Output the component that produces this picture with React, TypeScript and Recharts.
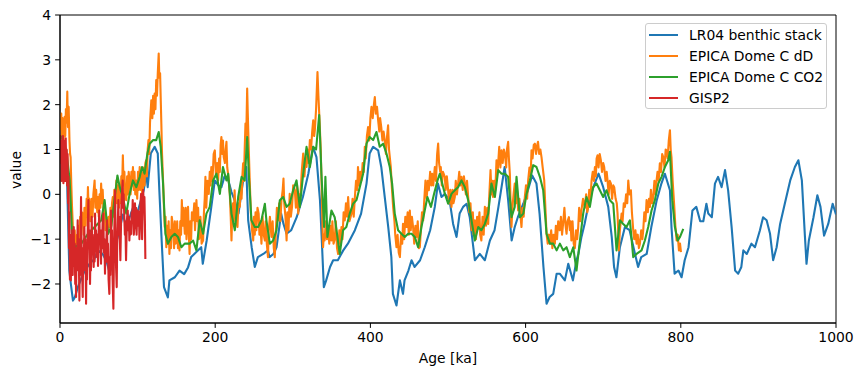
import React from "react";
import { LineChart, Line, XAxis, YAxis, Legend, ReferenceArea } from "recharts";

// [age ka, value] pairs
const LR04: [number, number][] = [
  [0, 0.95], [3, 1.05], [6, 0.8], [9, 0.4], [12, -1.7], [14, -2.0], [16.7, -2.37], [19, -2.3], [23, -2.07],
  [27, -1.9], [32, -1.7], [38, -1.55], [44, -1.45], [49, -1.25], [55, -1.33], [60, -1.5], [64, -1.75],
  [68, -1.55], [72, -1.1], [76, -0.85], [81, -0.45], [85, -0.7], [89, -0.55], [94, -0.3], [99, -0.45],
  [104, -0.15], [108, 0.1], [111, 0.46], [113, 0.16], [117, 0.91], [122, 1.06], [126, 0.91], [128, 0.09],
  [131, -1.03], [134, -2.07], [139, -2.3], [141, -1.92], [148, -1.85], [154, -1.7], [160, -1.78],
  [165, -1.63], [169, -1.4], [175, -1.3], [182, -1.18], [184, -1.55], [189, -1.03], [195, -0.28],
  [199.5, 0.31], [204, 0.2], [208, 0.16], [212, 0.4], [217, 0.31], [221, 0.05], [225, -0.13], [230, -0.43],
  [236, 0.31], [240, 0.61], [242.5, -0.58], [247, -1.18], [251, -1.62], [255, -1.4], [262, -1.33],
  [268, -1.25], [270, -1.4], [275, -1.33], [279, -1.18], [285, -0.43], [288, -0.66], [292, -0.88],
  [298, -0.8], [305, -0.51], [313, -0.06], [320, 0.46], [326, 1.06], [330.5, 0.83], [335, -0.13],
  [337, -0.88], [340, -2.07], [343, -1.92], [348, -1.62], [352, -1.47], [358, -1.47], [365, -1.25],
  [371, -1.1], [380, -0.8], [388, -0.43], [395, 0.24], [399, 0.91], [403.5, 1.06], [410, 0.98],
  [414, 0.61], [418.5, -0.06], [423, -0.73], [427, -1.4], [429, -2.22], [433.6, -2.48], [438, -1.92],
  [442, -2.22], [444, -1.92], [449, -1.7], [453, -1.47], [457, -1.62], [464, -1.47], [470, -1.18],
  [477, -0.8], [483, -0.28], [487, 0.24], [491.6, -0.06], [496, 0.01], [502, -0.13], [506.6, -0.66],
  [511, -0.95], [515, -0.43], [519.5, -0.28], [524, -0.21], [528, -0.51], [534.6, -1.47], [541, -1.33],
  [547.5, -1.47], [554, -1.03], [560, -0.8], [565, -0.28], [569, 0.16], [573, 0.61], [577.5, -0.13],
  [582, -1.03], [586, -0.73], [590, -0.51], [597, -0.21], [603, 0.09], [608.5, 0.42], [614, 0.24],
  [618, -0.43], [623, -1.62], [627, -2.44], [631, -2.29], [635.6, -2.22], [640, -1.77], [644, -1.77],
  [650.6, -1.92], [655, -1.55], [661, -1.92], [665.6, -1.47], [668, -1.33], [672, -0.95], [676, -0.66],
  [683, -0.06], [689, 0.24], [694, 0.46], [700, 0.16], [706.5, -0.28], [711, -0.95], [714, -1.62],
  [717, -1.85], [721.5, -1.18], [728, -0.73], [734, -0.8], [741, -1.33], [745, -1.62], [749, -1.4],
  [756, -1.33], [762, -0.73], [769, -0.13], [775, 0.24], [779.5, 0.46], [786, 0.09], [788, -0.73],
  [792, -1.77], [797, -1.7], [801, -1.85], [805, -1.47], [810, -1.18], [815, -0.36], [820, -0.28],
  [825, -0.6], [829, -0.6], [833, -0.21], [835.4, -0.43], [840, -0.51], [844, 0.24], [848, 0.39],
  [852.6, 0.16], [857, 0.54], [861, 0.09], [865.5, -0.73], [870, -1.7], [874, -1.77], [878, -1.62],
  [880.6, -1.25], [885, -1.33], [891, -1.1], [895.6, -1.18], [902, -0.8], [906, -0.51], [910.6, -0.58],
  [915, -0.88], [919, -1.47], [923.5, -1.18], [928, -0.66], [934, -0.21], [941, 0.31], [947, 0.61],
  [951.5, 0.76], [956, 0.31], [960, -0.95], [962, -1.55], [965, -1.03], [971, -0.51], [976, -0.02],
  [980, -0.28], [984.6, -0.92], [990, -0.66], [995.7, -0.21], [1000, -0.45],
];

const EPICA_DD: [number, number][] = [
  [0, 1.75], [0.8, 1.45], [1.6, 1.8], [2.4, 1.3], [3.2, 1.7], [3.9, 1.5], [4.7, 1.2], [5.4, 1.6], [6, 1.73],
  [6.8, 1.3], [7.6, 1.9], [8.5, 1.6], [9.4, 2.29], [10.2, 1.5], [11.2, 1.95], [12.2, 1.2], [13, 0.9],
  [13.7, 0.83], [14.6, 0.2], [15.5, -0.28], [16.5, -0.7], [18, -1.03], [19, -0.8], [20, -1.3], [21, -1.4],
  [22, -0.9], [23, -1.2], [24, -0.7], [25, -1.03], [26, -0.5], [27, -0.9], [28, -0.4], [29.6, -0.43],
  [30.5, -0.9], [31.5, -0.3], [33, -0.7], [34.3, -0.1], [35, -0.5], [36, 0.16], [37, -0.4], [38, -0.1],
  [39, -0.6], [40, -0.51], [41, -0.1], [42, -0.5], [43, 0], [44.6, 0.31], [45.6, -0.3], [46.6, 0.1],
  [48, -0.4], [49, -0.06], [50, -0.5], [51, 0], [52, -0.3], [53, 0.24], [54, -0.2], [55, 0.1], [56.4, -0.5],
  [57.5, -0.28], [58.6, -0.8], [59.7, -0.51], [61, -0.9], [62.5, -0.5], [64, -0.73], [65, -0.3], [66, -0.7],
  [67, -0.2], [68, -0.06], [69, -0.5], [70, 0.1], [71, -0.3], [72.6, 0.31], [73.6, -0.2], [75, 0.2],
  [76, -0.3], [77, 0.09], [78, -0.2], [79, 0.4], [80, 0.1], [81, 0.87], [82, 0.2], [83, 0.5], [84, -0.1],
  [85.4, -0.13], [86.5, 0.4], [87.5, 0], [88.5, 0.5], [89.7, 0.31], [91, 0], [92, 0.5], [93, 0.2], [94, 0.61],
  [95, 0.1], [96, 0.5], [97, 0], [98.4, 0.31], [99.5, -0.1], [100.5, 0.5], [101.5, 0.1], [102.7, 0.61],
  [104, 0.1], [105, 0.5], [106, -0.1], [107, 0.16], [108, 0.6], [109, 0.2], [110, 0.7], [111, 0.76],
  [112, 0.4], [113, 1.0], [114, 1.21], [115, 0.9], [116, 1.6], [117.7, 2.1], [119, 1.7], [120, 2.2],
  [121, 1.8], [122, 2.25], [123, 1.9], [124, 2.55], [125, 2.2], [126, 2.7], [127.2, 3.14], [128, 2.6],
  [129, 2.7], [130, 2.0], [130.6, 1.58], [131.5, 0.9], [132.8, 0.31], [134, -0.3], [135, -0.73], [136, -0.5],
  [137, -1.18], [138, -0.7], [139, -1.1], [140, -0.6], [141, -1.33], [142, -0.8], [143, -1.2], [144, -0.5],
  [145.7, -0.73], [147, -1.2], [148, -0.6], [149, -1.1], [150, -1.03], [151, -0.6], [152, -1.2], [153, -0.8],
  [154, -1.25], [155, -0.6], [156, -0.9], [157, -0.13], [158, -0.7], [159, -0.3], [160.8, -0.88], [162, -0.3],
  [163, -1.0], [164, -0.5], [165, -0.28], [166, -0.9], [167, -1.33], [168, -0.6], [169, -1.0], [170, -0.4],
  [171.5, -0.58], [173, -0.2], [174, -0.8], [175.8, -0.13], [177, -0.6], [178, -0.3], [179, -1.0],
  [180, -0.95], [181, -0.5], [182.5, -1.1], [184.4, -1.03], [185.5, -0.4], [186.5, -0.1], [187.4, 0.39],
  [188.5, -0.3], [190, 0.3], [191.7, 0.01], [193, 0.5], [194, 0.2], [195, 0.61], [196.5, 0.3], [198, 0.9],
  [199.5, 0.98], [201, 0.4], [202.5, 0.7], [203.8, 0.31], [205, 0.8], [206, 0.5], [207, 1.1], [208, 1.28],
  [209, 0.9], [210, 1.2], [211, 0.83], [212.5, 0.7], [213.5, 1.0], [214.5, 1.17], [215.5, 0.6], [217, 0.4],
  [218.8, 0.01], [220, -0.5], [221, -1.03], [222, -0.4], [223, -0.2], [224, -0.6], [225, 0.09], [226, -0.3],
  [227, -0.6], [228.7, -0.73], [230, -0.2], [231.7, -0.28], [233, 0.2], [234, -0.1], [235, 0.4], [236, 0.69],
  [237, 0.3], [238, 1.0], [239, 1.58], [240, 1.3], [241.2, 2.36], [242, 1.8], [243.3, 0.98], [244.5, 0.3],
  [246, -0.43], [247.5, -0.8], [249, -1.03], [250, -0.5], [251, -0.9], [252, -0.4], [253, -0.8], [254.5, -0.3],
  [256, -0.43], [257, -0.9], [258, -0.6], [259.6, -1.1], [261, -0.5], [262.5, -0.9], [264, -1.03], [265, -0.6],
  [266.5, -1.1], [268, -1.4], [269, -0.8], [270.5, -0.5], [272.5, -0.95], [274, -0.6], [275.5, -1.2],
  [276.8, -1.4], [278, -0.9], [279.5, -0.3], [281, -0.58], [282.5, -0.2], [284, -0.6], [285.4, -0.13],
  [287, 0.1], [288, 0.35], [289, -0.2], [290.5, -0.5], [292, -1.03], [293, -0.4], [294.5, -0.8], [296, 0.01],
  [297.5, -0.5], [299, -0.28], [300.5, 0.2], [302.6, 0.09], [304, -0.3], [305.5, 0.2], [307, -0.43],
  [308.5, 0], [310, 0.01], [311.5, 0.5], [313.4, 0.91], [315, 0.4], [316.5, 0.8], [317.7, 0.61], [319, 1.0],
  [320.5, 0.7], [322, 1.21], [323.5, 1.0], [325, 1.4], [326.3, 1.65], [327.5, 1.3], [328.4, 1.43], [330, 1.9],
  [331.8, 2.73], [333, 2.2], [334.8, 1.5], [336, 1.0], [337, 0.3], [338, -0.5], [339, -1.18], [340, -0.9],
  [341, -1.03], [342.5, -0.6], [344, -1.0], [345.5, -0.73], [347, -1.1], [348.5, -0.7], [349.8, -1.03],
  [351, -0.6], [352.5, -1.1], [354, -1.0], [355.5, -0.6], [357, -1.2], [358.4, -1.33], [360, -0.8],
  [361.5, -1.1], [362.7, -0.73], [364, -1.0], [365.5, -0.4], [367, -0.58], [368.5, -0.2], [370, -0.5],
  [371.3, -0.06], [373, -0.6], [375.6, -0.43], [377, -0.1], [378.5, -0.5], [380, -0.06], [381.5, 0.3],
  [383, 0.1], [384, 0.61], [385.5, 0.2], [387, 0.5], [388.5, 0.31], [390, 0.7], [391.5, 0.5], [392.8, 1.06],
  [394, 0.8], [395.5, 1.3], [397, 1.5], [398.5, 1.2], [400, 1.7], [401.4, 1.95], [403, 1.7], [404.5, 2.0],
  [405.7, 2.17], [407, 1.8], [408.5, 1.95], [410, 1.65], [411.5, 1.4], [412.5, 1.7], [414, 1.5], [415.5, 1.2],
  [417, 1.4], [418.5, 1.21], [420, 0.9], [421.5, 1.3], [422.8, 1.54], [424, 1.0], [426.3, 0.61], [427.5, 0.2],
  [429.3, -0.28], [431, -0.6], [432, -0.9], [433.6, -1.18], [435, -0.9], [436.5, -1.3], [438, -1.4],
  [439.5, -0.9], [441, -1.1], [442, -0.66], [443.5, -1.0], [445, -0.5], [446.5, -0.73], [448, -0.4],
  [449.5, -0.9], [450.8, -0.36], [452, -0.8], [453.5, -0.5], [455, -0.73], [456.5, -1.1], [458, -0.7],
  [459.4, -0.95], [461, -0.6], [462.5, -1.2], [463.7, -1.18], [465, -0.8], [466.5, -0.4], [468, -0.58],
  [469.5, -0.1], [471, 0.31], [472.5, -0.1], [474, 0.3], [475.3, 0.09], [477, 0.5], [478.5, 0.2],
  [479.6, 0.46], [481, 0.2], [483, 0.61], [484.5, 0.3], [486, 0.9], [487.3, 1.13], [488.5, 0.7], [490, 0.5],
  [490.7, 0.61], [492, 0.2], [493.5, 0.5], [495.9, 0.39], [497, 0.1], [498.5, 0.4], [500.2, 0.09],
  [501.5, -0.2], [503, 0.1], [504.5, -0.28], [506, 0.1], [507, -0.2], [508.8, -0.06], [510, 0.3], [511.5, 0],
  [513, 0.24], [514.5, 0.5], [516, 0.2], [517.4, 0.39], [519, 0.1], [520.5, 0.4], [521.7, 0.24], [523, 0],
  [524.5, 0.3], [526, -0.06], [527.5, -0.4], [529, -0.2], [530.3, -0.8], [532, -0.4], [533, -0.9],
  [534.6, -0.58], [536, -1.0], [537.5, -0.5], [539, -0.73], [540.5, -0.4], [541.5, -0.9], [543, -1.03],
  [544.5, -0.5], [546, -0.9], [547.5, -0.28], [549, -0.7], [550.5, -0.3], [551.8, -0.66], [553, -0.1],
  [554.8, 0.54], [556, 0], [557, 0.3], [558, -0.06], [559.5, 0.3], [561, 0.1], [562.5, 0.76], [564, 0.5],
  [566, 1.06], [567.5, 0.6], [569, 0.98], [570.5, 0.7], [572, 1.0], [573.3, 0.91], [575, 0.6], [576, 1.0],
  [577.5, 1.17], [578.5, 0.8], [579.7, 0.46], [580.7, -0.2], [581.8, -0.73], [583, -0.3], [584.5, 0],
  [586, 0.24], [587.5, -0.2], [589, 0.1], [590.4, -0.36], [592, -0.1], [593.5, -0.5], [594.7, -0.73],
  [596, -0.3], [597.5, -0.5], [599, -0.06], [600.5, 0.2], [602, -0.1], [603.3, 0.31], [605, 0.6], [606.5, 0.4],
  [607.6, 0.98], [609, 0.8], [610.5, 1.1], [612, 1.13], [613.5, 0.9], [615, 1.1], [616, 1.17], [617.5, 0.9],
  [619, 1.0], [620.5, 0.83], [622, 0.6], [624, 0.31], [625.5, -0.3], [627, -0.88], [628.5, -1.1], [630, -0.9],
  [631.3, -1.1], [633, -0.8], [634.5, -1.2], [636, -0.9], [637.7, -1.1], [639, -0.7], [640.5, -1.0],
  [642, -0.6], [644, -0.8], [645.5, -0.5], [647, -0.9], [648.5, -0.62], [650, -0.3], [651.5, -0.7],
  [652.8, -0.88], [654, -0.6], [655.8, -0.51], [657, -0.8], [658, -0.6], [659, -1.03], [660.5, -0.6],
  [662, -1.1], [663.5, -1.2], [665, -0.8], [666.5, -1.0], [667.8, -0.73], [669, -0.3], [670.5, -0.6],
  [672, -0.35], [674, -0.1], [676.4, -0.3], [678, 0], [679.5, -0.4], [680.7, -0.28], [682, 0.1], [683.5, -0.1],
  [685, 0.31], [686.5, 0.5], [688, 0.3], [689.3, 0.61], [690.5, 0.4], [691.5, 0.8], [692.7, 0.87], [694, 0.6],
  [695.5, 0.9], [697, 0.76], [698.5, 0.5], [700, 0.7], [701.3, 0.61], [703, 0.3], [704.5, 0.5], [705.6, 0.31],
  [707, 0], [708.5, 0.3], [710, 0.24], [711.5, -0.1], [713, 0.2], [714.2, 0.16], [716, -0.1], [717.5, -0.2],
  [718.5, -0.43], [719.5, -0.9], [720.2, -1.25], [721.5, -0.8], [723.7, -0.43], [725, -0.6], [726.5, -0.2],
  [728, -0.28], [729.5, 0], [731, -0.2], [732.3, 0.31], [733.8, 0], [735.7, 0.09], [737, -0.4], [738.7, -0.8],
  [740, -1.0], [741.5, -0.8], [743, -1.1], [744.5, -0.9], [746, -1.2], [747.3, -1.1], [749, -0.8],
  [750.5, -1.0], [751.6, -0.8], [753, -0.4], [754.5, -0.6], [755.9, -0.13], [757.5, -0.4], [759, -0.1],
  [760.2, -0.28], [761.5, 0.1], [763, -0.2], [764.5, -0.06], [766, 0.3], [767.5, 0], [768.8, 0.31],
  [770, 0.5], [771.5, 0.3], [773, 0.69], [774.5, 0.5], [776, 0.9], [777.4, 0.83], [779, 0.6], [780.5, 1.0],
  [781.7, 0.98], [783, 0.8], [784.5, 1.2], [786, 1.43], [787, 1.0], [788, 0.83], [789.5, 0.3], [791.6, -0.28],
  [793, -0.7], [794.6, -1.03], [796, -0.9], [797.6, -1.25], [799, -1.1], [800.2, -1.29],
];

const EPICA_CO2: [number, number][] = [
  [0, 1.3], [1.7, 1.28], [8.2, 0.98], [12.5, 0.31], [15.5, -0.88], [18.9, -1.18], [27.5, -1.1],
  [36, -0.88], [44.6, -0.73], [53.2, -0.58], [57.5, -0.13], [62, -0.88], [66, -0.73], [70.5, -0.06],
  [74, 0.42], [77, 0.16], [81, -0.06], [85.4, -0.43], [89.7, 0.01], [94, 0.31], [98.4, 0.16],
  [102.7, 0.39], [105.7, 0.61], [109, 0.46], [112.6, 0.91], [115.6, 1.13], [120, 1.21], [124, 1.21],
  [127.2, 1.39], [129.8, 1.06], [132.8, 0.24], [135.8, -0.88], [139, -1.1], [143.5, -0.95], [147.8, -0.88],
  [152, -0.95], [156.4, -1.18], [160.7, -1.1], [165, -1.1], [167, -1.1], [171.5, -1.03], [175.8, -1.25],
  [180, -0.58], [184.4, -0.88], [188.7, -0.43], [193, -0.28], [197.3, 0.31], [201.6, 0.46], [206, 0.01],
  [210, 0.61], [214.5, 0.31], [216.7, 0.46], [221, -0.43], [225.3, -0.8], [229.6, -0.06], [234, 0.39],
  [238, 0.31], [241.2, 1.28], [243.7, 0.31], [246.7, -0.58], [251, -0.73], [255.3, -0.73], [259.6, -0.58],
  [264, -0.21], [266, -0.58], [270.4, -1.1], [274.7, -1.03], [279, -0.8], [283.3, -0.13], [287.6, -0.06],
  [292, -0.28], [296, -0.21], [300.5, 0.09], [304.8, 0.31], [309, -0.28], [313.4, 0.46], [317.7, 1.06],
  [322, 0.61], [326.3, 1.06], [330, 1.0], [334, 1.77], [336.9, 0.46], [340.3, -0.73], [342, 0.39],
  [344.6, -0.95], [349.8, -0.36], [354, -0.51], [360.5, -1.33], [364.8, -0.8], [369, -0.73], [373.4, -0.43],
  [377.7, -0.21], [382, -0.13], [386.3, 0.16], [390.6, 0.46], [395, 1.13], [399, 1.28], [403.5, 1.21],
  [407.8, 1.39], [412, 1.06], [416.4, 1.13], [420.7, 0.91], [425, 0.61], [428, 0.24], [431.4, -0.43],
  [435.7, -0.8], [440, -0.88], [444.3, -0.95], [448.6, -0.88], [453, -0.88], [457.2, -0.95], [461.5, -1.18],
  [465.8, -0.73], [470, -0.36], [473.5, -0.06], [478, -0.28], [482, 0.01], [486.5, 0.31], [489.5, 0.46],
  [493.8, 0.16], [496, 0.01], [500.2, -0.21], [504.5, 0.01], [508.8, 0.09], [513, 0.16], [517.4, 0.31],
  [521.7, 0.16], [526, -0.13], [530.3, -0.58], [534.6, -1.03], [539, -0.73], [543, -0.8], [547.5, -0.66],
  [551.8, -0.43], [556, 0.24], [560.4, -0.06], [564.7, 0.54], [569, 0.46], [573.3, 0.46], [577.5, 0.39],
  [581.8, -0.51], [586, -0.28], [588.3, 0.39], [592.6, -0.51], [597, -0.43], [601.2, 0.01], [605.5, 0.31],
  [609.8, 0.65], [614, 0.61], [618.4, 0.39], [622.7, 0.09], [627, -0.88], [631.3, -1.1], [635.6, -1.1],
  [640, -1.25], [644.2, -1.1], [648.5, -1.25], [652.8, -1.18], [657, -1.4], [661.4, -1.18], [665.6, -1.7],
  [670, -1.03], [674.2, -0.43], [678.5, -0.06], [682.8, -0.28], [687, 0.16], [691.4, 0.24], [695.7, 0.09],
  [700, -0.06], [704.3, 0.09], [708.6, -0.13], [713, -0.21], [717.2, -1.25], [721.5, -0.58], [725.8, -0.66],
  [730, -0.73], [734.4, -0.58], [738.7, -1.4], [743, -1.33], [749.4, -1.25], [753.7, -1.03], [758, -0.73],
  [762.3, -0.36], [766.6, -0.13], [771, 0.24], [775.2, 0.39], [779.5, 0.61], [783.8, 0.76], [786, 0.95],
  [789, -0.13], [792.4, -0.73], [796, -1.03], [799, -0.95], [803.2, -0.77],
];

const GISP2: [number, number][] = [
  [0, 1.0], [0.5, 1.3], [1, 0.7], [1.5, 1.2], [2, 0.3], [2.6, 1.1], [3.2, 0.5], [3.8, 1.3], [4.4, 0.25],
  [5, 1.2], [5.6, 0.6], [6.2, 1.1], [6.8, 0.3], [7.4, 1.25], [8, 0.5], [8.6, 1.0], [9.2, 0.2], [9.8, 0.9],
  [10.4, -0.2], [11, 0.4], [11.6, -1.2], [12.2, -0.4], [12.8, -1.9], [13.4, -0.9], [14, -1.92], [14.6, -1.1],
  [15.2, -1.6], [15.8, -0.8], [16.4, -1.8], [17, -1.0], [17.7, -0.73], [18.3, -1.6], [19, -1.1], [19.6, -2.0],
  [20.2, -1.3], [20.7, -2.29], [21.3, -1.2], [21.9, -1.7], [22.8, -0.58], [23.4, -1.5], [24, -1.0],
  [25, -2.37], [25.6, -1.3], [26.2, -1.8], [27.1, -0.06], [27.7, -1.0], [28.3, -1.6], [29.3, -2.29],
  [29.9, -1.2], [30.5, -1.7], [31.4, -0.73], [32, -1.5], [32.7, -1.0], [33.6, -2.44], [34.2, -1.4],
  [34.8, -1.9], [35.6, -0.9], [36.6, -0.13], [37.2, -1.2], [37.8, -0.8], [38.7, -2.0], [39.3, -1.3],
  [39.9, -1.7], [40.9, -0.5], [41.5, -1.3], [42.1, -0.9], [43.4, -1.62], [44, -1.0], [44.6, -1.5],
  [45.2, -0.43], [45.8, -1.1], [46.4, -0.8], [47.7, -1.4], [48.3, -0.9], [49, -1.6], [50, -0.7], [50.7, -0.36],
  [51.3, -1.1], [51.9, -0.9], [52.9, -1.55], [53.5, -0.8], [54.1, -1.2], [55, -0.6], [55.9, -0.43],
  [56.5, -1.3], [57.1, -1.0], [58, -1.77], [58.6, -1.1], [59.2, -1.5], [60, -0.9], [60.6, -0.58], [61.2, -1.5],
  [61.8, -1.1], [62.6, -1.9], [63.6, -2.22], [64.2, -1.4], [64.8, -1.8], [65.8, -0.36], [66.4, -1.2],
  [67, -0.8], [67.8, -1.9], [68.8, -2.55], [69.4, -1.5], [70, -0.8], [71, 0.09], [71.6, -1.0], [72.2, -1.6],
  [73.1, -2.07], [73.7, -1.1], [74.4, -0.7], [75.2, -0.13], [75.8, -0.9], [76.4, -0.5], [77.8, -1.47],
  [78.5, -0.8], [79.2, -0.2], [80.8, 0.31], [81.4, -0.3], [82, 0], [83, -0.58], [83.6, -0.9], [84.2, -0.6],
  [85.1, -1.47], [85.8, -0.9], [86.5, -0.5], [87.3, -0.36], [88, -0.8], [88.7, -0.5], [89.4, -1.03],
  [90.1, -0.6], [90.8, -0.9], [91.6, -0.88], [92.3, -0.4], [93, -0.6], [93.7, -0.13], [94.4, -0.5],
  [95.1, -0.9], [95.9, -0.73], [96.6, -0.2], [97.3, -0.5], [98, -0.3], [98.7, -0.9], [99.4, -0.5],
  [100.2, -0.36], [101, -0.7], [101.7, -0.4], [102.4, -1.0], [103, -0.6], [103.7, -0.2], [104.5, 0.01],
  [105.2, -0.6], [105.8, -1.0], [106.5, -0.4], [107.2, 0.1], [108, -0.3], [108.8, -0.06], [109.4, -0.6],
  [110, -1.44],
];

const SERIES = [
  { name: "LR04 benthic stack", color: "#1f77b4", pts: LR04 },
  { name: "EPICA Dome C dD", color: "#ff7f0e", pts: EPICA_DD },
  { name: "EPICA Dome C CO2", color: "#2ca02c", pts: EPICA_CO2 },
  { name: "GISP2", color: "#d62728", pts: GISP2 },
];

const X_TICKS = [0, 200, 400, 600, 800, 1000];
const Y_TICKS = [-2, -1, 0, 1, 2, 3, 4];

const FONT = "'DejaVu Sans', sans-serif";
const FS = 13.9;
const tickStyle = { fill: "#000", fontSize: FS, fontFamily: FONT };
const fmt = (v: number) => (v < 0 ? "\u2212" + Math.abs(v) : String(v));

function LegendBox() {
  return (
    <div
      style={{
        width: 182,
        height: 86,
        border: "1px solid #cccccc",
        borderRadius: 3,
        background: "rgba(255,255,255,0.8)",
        fontFamily: FONT,
        fontSize: FS,
        color: "#000",
        boxSizing: "border-box",
        paddingTop: 1,
      }}
    >
      {SERIES.map((s) => (
        <div key={s.name} style={{ display: "flex", alignItems: "center", height: 20.8 }}>
          <div style={{ width: 29, height: 2, background: s.color, marginLeft: 3, marginRight: 11 }} />
          <span style={{ whiteSpace: "nowrap", lineHeight: "16px" }}>{s.name}</span>
        </div>
      ))}
    </div>
  );
}

export default function App() {
  return (
    <div style={{ position: "absolute", left: 0, top: 0, width: 862, height: 376, background: "#fff" }}>
      <LineChart width={862} height={376} margin={{ top: 15, right: 26, bottom: 0, left: 0 }}>
        <XAxis
          type="number"
          dataKey="t"
          domain={[0, 1000]}
          ticks={X_TICKS}
          allowDataOverflow
          height={53}
          tick={tickStyle}
          tickSize={4.9}
          tickMargin={4}
          stroke="#000"
          tickLine={{ stroke: "#000" }}
        />
        <YAxis
          type="number"
          domain={[-2.87, 4]}
          ticks={Y_TICKS}
          allowDataOverflow
          width={60}
          tick={tickStyle}
          tickSize={4.9}
          tickMargin={4}
          tickFormatter={fmt}
          stroke="#000"
          tickLine={{ stroke: "#000" }}
        />
        {SERIES.map((s) => (
          <Line
            key={s.name}
            data={s.pts.map(([t, v]) => ({ t, v }))}
            dataKey="v"
            name={s.name}
            stroke={s.color}
            strokeWidth={2.1}
            strokeLinejoin="round"
            dot={false}
            type="linear"
            isAnimationActive={false}
          />
        ))}
        <ReferenceArea x1={0} x2={1000} y1={-2.87} y2={4} fill="none" stroke="#000" strokeWidth={1} />
        <Legend
          layout="vertical"
          align="center"
          verticalAlign="middle"
          content={() => <LegendBox />}
          wrapperStyle={{ position: "absolute", left: 645, top: 23, width: 184, height: 88 }}
        />
      </LineChart>
      <div
        style={{
          position: "absolute",
          left: 448,
          top: 358,
          transform: "translate(-50%, -50%)",
          fontFamily: FONT,
          fontSize: FS,
          whiteSpace: "nowrap",
        }}
      >
        Age [ka]
      </div>
      <div
        style={{
          position: "absolute",
          left: 16,
          top: 170,
          transform: "translate(-50%, -50%) rotate(-90deg)",
          fontFamily: FONT,
          fontSize: FS,
          whiteSpace: "nowrap",
        }}
      >
        value
      </div>
    </div>
  );
}
